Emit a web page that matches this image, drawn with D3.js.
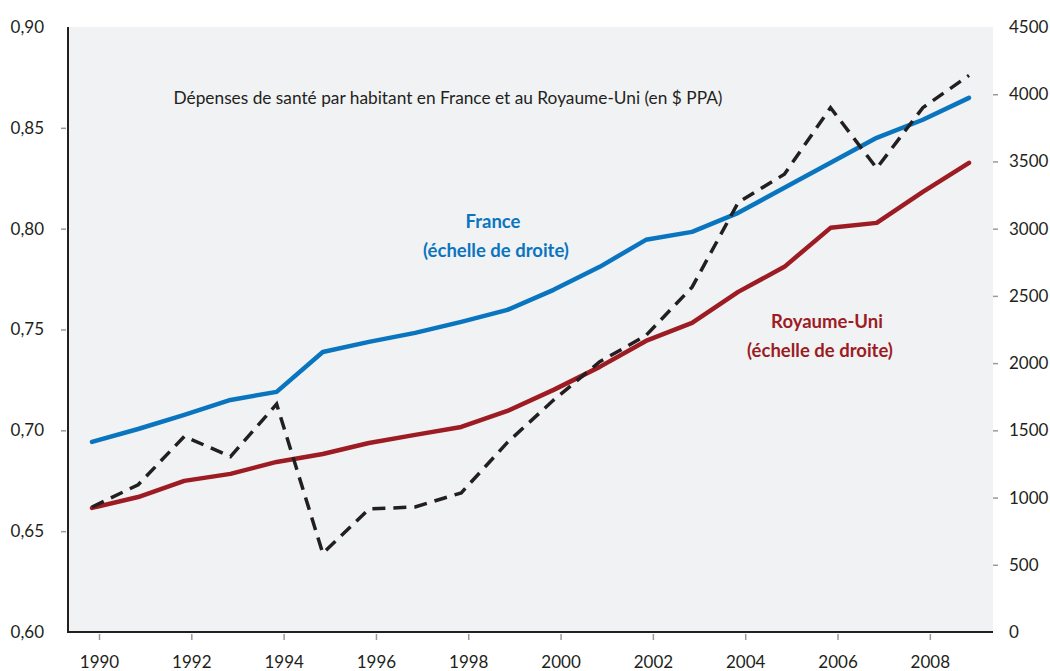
<!DOCTYPE html>
<html>
<head>
<meta charset="utf-8">
<script src="https://cdn.jsdelivr.net/npm/d3@7"></script>
<style>
  body { margin: 0; background: #fff; }
  svg text { font-family: "Lato", "Open Sans", sans-serif; fill: #231f20; }
</style>
</head>
<body>
<svg id="chart" width="1050" height="671"></svg>
<script>
// years of the series
var years = [1990, 1991, 1992, 1993, 1994, 1995, 1996, 1997, 1998, 1999,
             2000, 2001, 2002, 2003, 2004, 2005, 2006, 2007, 2008, 2009];
// dashed series, left scale
var ratio = [0.662, 0.673, 0.697, 0.687, 0.713, 0.639, 0.661, 0.662, 0.669, 0.694,
             0.715, 0.734, 0.747, 0.771, 0.813, 0.827, 0.860, 0.830, 0.860, 0.876];
// health spending per head, right scale ($ PPP)
var france = [1414, 1510, 1615, 1726, 1786, 2083, 2158, 2225, 2307, 2396,
              2545, 2716, 2917, 2976, 3118, 3304, 3490, 3676, 3810, 3973];
var uk = [923, 1004, 1124, 1176, 1265, 1324, 1406, 1466, 1525, 1644,
          1801, 1972, 2165, 2299, 2530, 2716, 3006, 3043, 3274, 3490];
var xTicks = [1990, 1992, 1994, 1996, 1998, 2000, 2002, 2004, 2006, 2008];
var leftTicks = [0.60, 0.65, 0.70, 0.75, 0.80, 0.85, 0.90];
var rightTicks = [0, 500, 1000, 1500, 2000, 2500, 3000, 3500, 4000, 4500];

var svg = d3.select("#chart");
var pLeft = 68, pRight = 993, pTop = 27, pBottom = 632;

var x = d3.scaleLinear().domain([1990, 2009]).range([92, 969]);
var yL = d3.scaleLinear().domain([0.60, 0.90]).range([pBottom, pTop]);
var yR = d3.scaleLinear().domain([0, 4500]).range([pBottom, pTop]);

// background panel
svg.append("rect")
    .attr("x", pLeft).attr("y", pTop)
    .attr("width", pRight - pLeft).attr("height", pBottom - pTop)
    .style("fill", "#f1f2f4");

var fmtL = function (d) { return d3.format(".2f")(d).replace(".", ","); };

// left axis
var gL = svg.append("g").attr("transform", "translate(" + (pLeft - 2) + ",0)")
    .call(d3.axisLeft(yL).tickValues(leftTicks).tickSize(5).tickPadding(16).tickFormat(fmtL));
gL.select(".domain").remove();
gL.selectAll(".tick line").style("stroke", "#9a9a9a").style("stroke-width", 1.5);
gL.selectAll(".tick text").style("font-size", "17px").attr("x", -22);
gL.selectAll(".tick").filter(function (d) { return d === 0.60 || d === 0.90; }).select("line").remove();

// right axis
var gR = svg.append("g").attr("transform", "translate(" + pRight + ",0)")
    .call(d3.axisRight(yR).tickValues(rightTicks).tickSize(5).tickPadding(11).tickFormat(d3.format("d")));
gR.select(".domain").remove();
gR.selectAll(".tick line").style("stroke", "#9a9a9a").style("stroke-width", 1.5);
gR.selectAll(".tick text").style("font-size", "17px");
gR.selectAll(".tick").filter(function (d) { return d === 0 || d === 4500; }).select("line").remove();

// bottom axis (tick marks sit a little right of the data points)
var gX = svg.append("g").attr("transform", "translate(7," + (pBottom + 2) + ")")
    .call(d3.axisBottom(x).tickValues(xTicks).tickSize(6).tickPadding(16).tickFormat(d3.format("d")));
gX.select(".domain").remove();
gX.selectAll(".tick line").style("stroke", "#9a9a9a").style("stroke-width", 1.5);
gX.selectAll(".tick text").style("font-size", "17px");

// axis lines
svg.append("line").attr("x1", pLeft).attr("x2", pLeft).attr("y1", pTop).attr("y2", pBottom + 1)
    .style("stroke", "#231f20").style("stroke-width", 2);
svg.append("line").attr("x1", pLeft).attr("x2", pRight).attr("y1", pBottom).attr("y2", pBottom)
    .style("stroke", "#231f20").style("stroke-width", 2);

// series
var lineR = function (vals) {
    return d3.line().x(function (d, i) { return x(years[i]); })
        .y(function (d) { return yR(d); })(vals);
};

svg.append("path").attr("d", lineR(uk))
    .style("fill", "none").style("stroke", "#9d1c24").style("stroke-width", 4.5)
    .style("stroke-linejoin", "round").style("stroke-linecap", "round");

svg.append("path").attr("d", lineR(france))
    .style("fill", "none").style("stroke", "#0a75bf").style("stroke-width", 4.5)
    .style("stroke-linejoin", "round").style("stroke-linecap", "round");

svg.append("path")
    .attr("d", d3.line().x(function (d, i) { return x(years[i]); })
        .y(function (d) { return yL(d); })(ratio))
    .style("fill", "none").style("stroke", "#231f20").style("stroke-width", 3.5)
    .style("stroke-dasharray", "13,8").style("stroke-linejoin", "miter");

// texts
svg.append("text").attr("x", 448).attr("y", 104).attr("text-anchor", "middle")
    .style("font-size", "17.3px")
    .text("Dépenses de santé par habitant en France et au Royaume-Uni (en $ PPA)");

var labels = [
    { t: "France", x: 493, y: 228, c: "#0a75bf" },
    { t: "(échelle de droite)", x: 496, y: 257, c: "#0a75bf" },
    { t: "Royaume-Uni", x: 827, y: 328, c: "#9d1c24" },
    { t: "(échelle de droite)", x: 820, y: 357, c: "#9d1c24" }
];
svg.selectAll("text.lab").data(labels).enter().append("text")
    .attr("class", "lab")
    .attr("x", function (d) { return d.x; })
    .attr("y", function (d) { return d.y; })
    .attr("text-anchor", "middle")
    .style("font-size", "18.5px").style("font-weight", "bold")
    .style("fill", function (d) { return d.c; })
    .text(function (d) { return d.t; });
</script>
</body>
</html>
